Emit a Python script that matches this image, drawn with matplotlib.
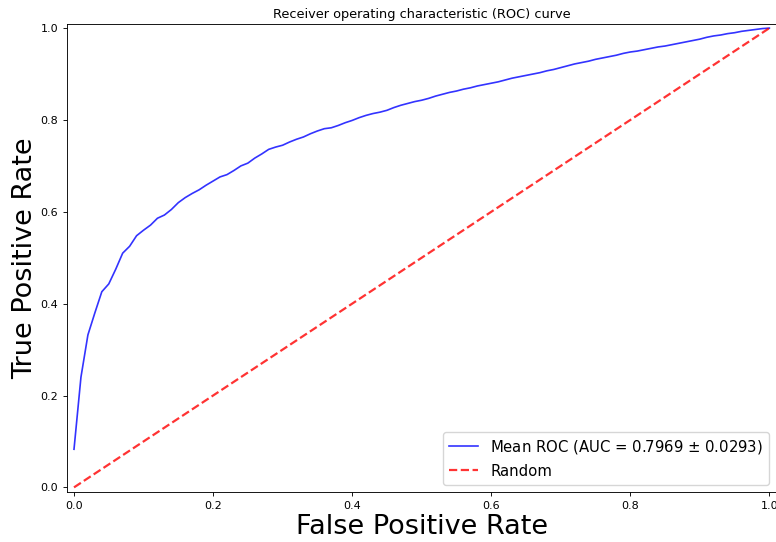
import numpy as np
import matplotlib
matplotlib.use('Agg')
import matplotlib.pyplot as plt

mean_fpr = np.linspace(0, 1, 101)
mean_tpr = [
    0.083, 0.240, 0.332, 0.380, 0.426, 0.443, 0.475, 0.510, 0.525, 0.548,
    0.560, 0.571, 0.586, 0.593, 0.605, 0.620, 0.631, 0.640, 0.648, 0.658,
    0.667, 0.676, 0.681, 0.690, 0.700, 0.706, 0.717, 0.726, 0.736, 0.741,
    0.745, 0.752, 0.758, 0.763, 0.770, 0.776, 0.781, 0.783, 0.788, 0.794,
    0.799, 0.805, 0.810, 0.814, 0.817, 0.821, 0.827, 0.832, 0.836, 0.840,
    0.843, 0.847, 0.852, 0.856, 0.860, 0.863, 0.867, 0.870, 0.874, 0.877,
    0.880, 0.883, 0.887, 0.891, 0.894, 0.897, 0.900, 0.903, 0.907, 0.910,
    0.914, 0.918, 0.922, 0.925, 0.928, 0.932, 0.935, 0.938, 0.941, 0.945,
    0.948, 0.950, 0.953, 0.956, 0.959, 0.961, 0.964, 0.967, 0.970, 0.973,
    0.976, 0.980, 0.983, 0.985, 0.988, 0.990, 0.993, 0.995, 0.997, 0.999,
    1.000,
]
random_x = [0, 1]
random_y = [0, 1]

mean_auc = 0.7969
std_auc = 0.0293
ticks = [0.0, 0.2, 0.4, 0.6, 0.8, 1.0]

fig = plt.figure(figsize=(7.76, 5.42), dpi=100)
ax = fig.add_axes([0.0864, 0.0923, 0.914, 0.8643])

ax.plot(mean_fpr, mean_tpr, color='b', alpha=0.8, lw=1.2,
        label='Mean ROC (AUC = %0.4f $\\pm$ %0.4f)' % (mean_auc, std_auc))
ax.plot(random_x, random_y, linestyle='--', color='r', alpha=0.8, lw=1.6,
        label='Random')

ax.set_xlim(-0.01, 1.01)
ax.set_ylim(-0.01, 1.01)
ax.set_xticks(ticks)
ax.set_yticks(ticks)
ax.tick_params(labelsize=8, length=2.8, width=0.64)
for s in ax.spines.values():
    s.set_linewidth(0.64)

ax.set_xlabel('False Positive Rate', fontsize=19.5, labelpad=2)
ax.set_ylabel('True Positive Rate', fontsize=19.5, labelpad=2)
ax.set_title('Receiver operating characteristic (ROC) curve', fontsize=9.3, pad=4)
ax.legend(loc='lower right', fontsize=10.7)

fig.savefig('out.png', dpi=100)
